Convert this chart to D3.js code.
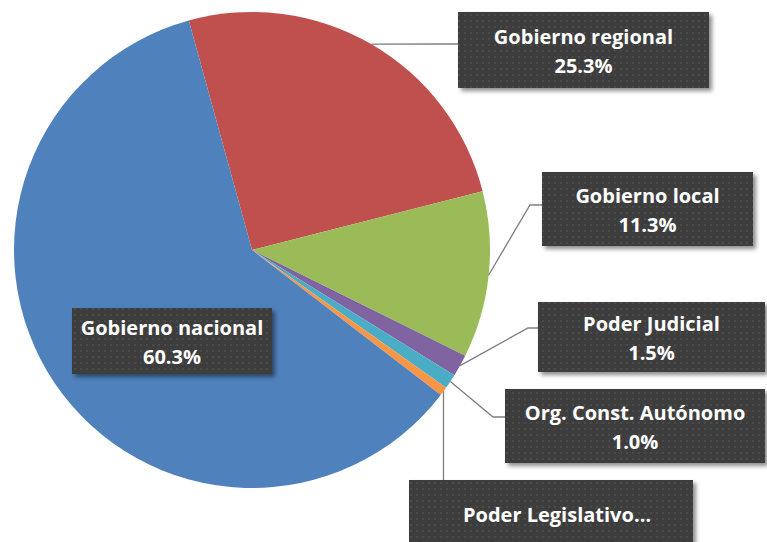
<!DOCTYPE html>
<html>
<head>
<meta charset="utf-8">
<script src="https://cdn.jsdelivr.net/npm/d3@7"></script>
<style>
  html, body { margin: 0; padding: 0; background: #fff; }
  svg { display: block; }
</style>
</head>
<body>
<svg id="chart"></svg>
<script>
const W = 767;
const H = 542;

// data, in clockwise order from the top slice
const categories = ["Gobierno regional", "Gobierno local", "Poder Judicial",
    "Org. Const. Autónomo", "Poder Legislativo…", "Gobierno nacional"];
const shares = [25.3, 11.3, 1.5, 1.0, 0.6, 60.3];
const labelTexts = ["25.3%", "11.3%", "1.5%", "1.0%", "", "60.3%"];
const colors = ["#C0504D", "#9BBB59", "#8064A2", "#4BACC6", "#F79646", "#4F81BD"];

const cx = 252, cy = 250, R = 238;
const start = -15.4 * Math.PI / 180;

// label boxes (layout only)
const boxes = [
    { x: 458, y: 12, w: 251, h: 76, elbow: [448, 44] },
    { x: 542, y: 172, w: 211, h: 74, elbow: [530, 205] },
    { x: 538, y: 302, w: 227, h: 70, elbow: [528, 328] },
    { x: 505, y: 389, w: 260, h: 74, elbow: [493, 417] },
    { x: 409, y: 480, w: 284, h: 70, elbow: null },
    { x: 72, y: 308, w: 200, h: 66, elbow: null, noLine: true }
];

const svg = d3.select("#chart")
    .attr("width", W)
    .attr("height", H)
    .attr("viewBox", `0 0 ${W} ${H}`);

const defs = svg.append("defs");

const pat = defs.append("pattern")
    .attr("id", "dots")
    .attr("width", 6)
    .attr("height", 6)
    .attr("patternUnits", "userSpaceOnUse");
pat.append("rect").attr("width", 6).attr("height", 6).attr("fill", "#3d3d3d");
pat.append("rect").attr("x", 2).attr("y", 2).attr("width", 2).attr("height", 2).attr("fill", "#4c4c4c");

const shadow = defs.append("filter")
    .attr("id", "shadow")
    .attr("x", "-10%").attr("y", "-10%")
    .attr("width", "130%").attr("height", "140%");
shadow.append("feDropShadow")
    .attr("dx", 3).attr("dy", 3)
    .attr("stdDeviation", 2)
    .attr("flood-color", "#000")
    .attr("flood-opacity", 0.45);

const pie = d3.pie()
    .sort(null)
    .value(d => d)
    .startAngle(start)
    .endAngle(start + 2 * Math.PI);

const arcs = pie(shares);

const arc = d3.arc().innerRadius(0).outerRadius(R);

const g = svg.append("g")
    .attr("transform", `translate(${cx},${cy})`);

g.selectAll("path.slice")
    .data(arcs)
    .enter()
    .append("path")
    .attr("class", "slice")
    .attr("d", arc)
    .attr("fill", (d, i) => colors[i]);

// leader lines
arcs.forEach((d, i) => {
    const b = boxes[i];
    if (b.noLine) return;
    const a = (d.startAngle + d.endAngle) / 2;
    const px = cx + R * Math.sin(a);
    const py = cy - R * Math.cos(a);
    let pts;
    if (b.elbow) {
        pts = [[px, py], b.elbow, [b.x, b.elbow[1]]];
    } else {
        pts = [[px, py], [px, b.y]];
    }
    svg.append("path")
        .attr("d", d3.line()(pts))
        .attr("fill", "none")
        .attr("stroke", "#7f7f7f")
        .attr("stroke-width", 1.3);
});

// label boxes
boxes.forEach((b, i) => {
    const lg = svg.append("g");
    lg.append("rect")
        .attr("x", b.x).attr("y", b.y)
        .attr("width", b.w).attr("height", b.h)
        .attr("fill", "url(#dots)")
        .attr("filter", "url(#shadow)");
    const tx = b.x + b.w / 2;
    const c = b.y + b.h / 2;
    const pct = labelTexts[i];
    const t = lg.append("text")
        .attr("text-anchor", "middle")
        .attr("fill", "#fff")
        .attr("font-family", "'Open Sans', sans-serif")
        .attr("font-weight", 700)
        .attr("font-size", 20);
    if (pct) {
        t.append("tspan").attr("x", tx).attr("y", c - 6).text(categories[i]);
        t.append("tspan").attr("x", tx).attr("y", c + 23).text(pct);
    } else {
        t.append("tspan").attr("x", tx + 6).attr("y", 522).text(categories[i]);
    }
});
</script>
</body>
</html>
